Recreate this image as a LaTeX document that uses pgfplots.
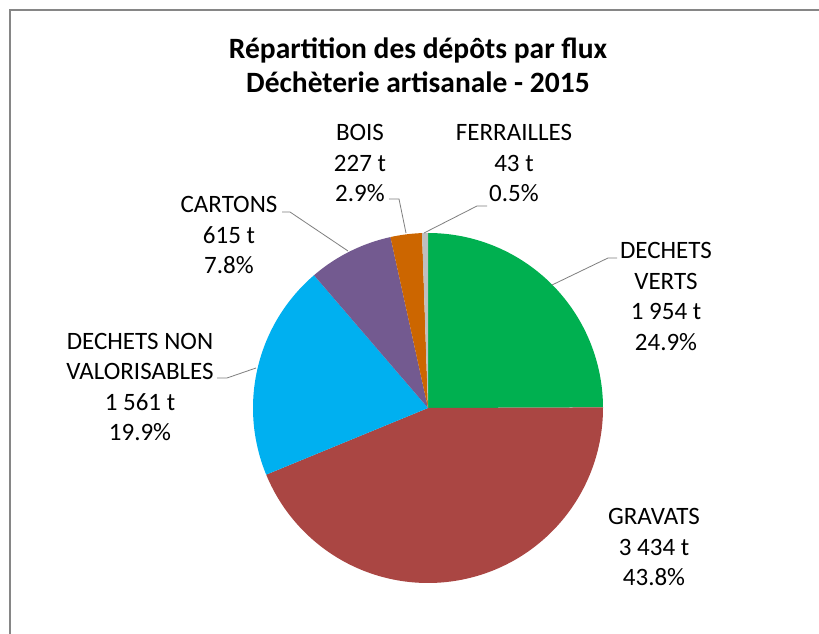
\documentclass[border=0pt]{standalone}
\usepackage{pgfplots}
\usepackage{pgfplotstable}
\pgfplotsset{compat=1.18}
\usepackage{fontspec}
\setmainfont{Carlito}
\definecolor{cDV}{HTML}{00B050}
\definecolor{cGR}{HTML}{AA4643}
\definecolor{cDNV}{HTML}{00B0F0}
\definecolor{cCA}{HTML}{735A90}
\definecolor{cBO}{HTML}{CC6600}
\definecolor{cFE}{HTML}{BFBFBF}
\definecolor{frameclr}{HTML}{868686}
\definecolor{leader}{HTML}{7F7F7F}
\pgfplotstableread{
flux tonnes
DV 1954
GR 3434
DNV 1561
CA 615
BO 227
FE 43
}\fluxdata
\begin{document}
\begin{tikzpicture}[x=1pt,y=1pt]
\pgfplotstablegetelem{0}{tonnes}\of\fluxdata \let\vA\pgfplotsretval
\pgfplotstablegetelem{1}{tonnes}\of\fluxdata \let\vB\pgfplotsretval
\pgfplotstablegetelem{2}{tonnes}\of\fluxdata \let\vC\pgfplotsretval
\pgfplotstablegetelem{3}{tonnes}\of\fluxdata \let\vD\pgfplotsretval
\pgfplotstablegetelem{4}{tonnes}\of\fluxdata \let\vE\pgfplotsretval
\pgfplotstablegetelem{5}{tonnes}\of\fluxdata \let\vF\pgfplotsretval
\pgfmathsetmacro\tot{(\vA+\vB+\vC+\vD+\vE+\vF)/100}
\pgfmathsetmacro\aA{90}
\pgfmathsetmacro\aB{\aA-3.6*((\vA/100)/(\tot/100))}
\pgfmathsetmacro\aC{\aB-3.6*((\vB/100)/(\tot/100))}
\pgfmathsetmacro\aD{\aC-3.6*((\vC/100)/(\tot/100))}
\pgfmathsetmacro\aE{\aD-3.6*((\vD/100)/(\tot/100))}
\pgfmathsetmacro\aF{\aE-3.6*((\vE/100)/(\tot/100))}
\pgfmathsetmacro\aG{\aF-3.6*((\vF/100)/(\tot/100))}
\fill[white] (0,0) rectangle (819,634);
\useasboundingbox (0,0) rectangle (819,634);
\draw[frameclr, line width=1.6pt] (10,0) -- (10,624.8);
\draw[frameclr, line width=1.6pt] (9.2,624) -- (819,624);
\begin{axis}[
  at={(0,0)}, anchor=south west,
  width=819pt, height=634pt, scale only axis,
  xmin=0, xmax=819, ymin=0, ymax=634,
  hide axis, clip=false,
  every axis plot/.append style={draw=none},
]
% pie slices (center 428,226 ; radius 175)
\addplot[fill=cDV, domain=\aB:\aA, samples=90, variable=\t]
  ({428+175*cos(t)},{226+175*sin(t)}) -- (axis cs:428,226) -- cycle;
\addplot[fill=cGR, domain=\aC:\aB, samples=150, variable=\t]
  ({428+175*cos(t)},{226+175*sin(t)}) -- (axis cs:428,226) -- cycle;
\addplot[fill=cDNV, domain=\aD:\aC, samples=80, variable=\t]
  ({428+175*cos(t)},{226+175*sin(t)}) -- (axis cs:428,226) -- cycle;
\addplot[fill=cCA, domain=\aE:\aD, samples=40, variable=\t]
  ({428+175*cos(t)},{226+175*sin(t)}) -- (axis cs:428,226) -- cycle;
\addplot[fill=cBO, domain=\aF:\aE, samples=20, variable=\t]
  ({428+175*cos(t)},{226+175*sin(t)}) -- (axis cs:428,226) -- cycle;
\addplot[fill=cFE, domain=\aG:\aF, samples=8, variable=\t]
  ({428+175*cos(t)},{226+175*sin(t)}) -- (axis cs:428,226) -- cycle;
% leader lines
\draw[leader, line width=0.8pt] (axis cs:617,376) -- (axis cs:608,376) -- (axis cs:552,349);
\draw[leader, line width=0.8pt] (axis cs:217,256) -- (axis cs:227,256) -- (axis cs:256,266);
\draw[leader, line width=0.8pt] (axis cs:282,422) -- (axis cs:290,422) -- (axis cs:348,383);
\draw[leader, line width=0.8pt] (axis cs:389,435) -- (axis cs:399,435) -- (axis cs:406,401);
\draw[leader, line width=0.8pt] (axis cs:487,428) -- (axis cs:477,428) -- (axis cs:424,401);
% title
\node[align=center, font=\fontsize{29.5}{34}\selectfont\bfseries] at (axis cs:418,569)
  {Répartition des dépôts par flux\\Déchèterie artisanale - 2015};
% labels
\tikzset{lab/.style={align=center, font=\fontsize{25}{30.5}\selectfont}}
\node[lab] at (axis cs:666,337.5) {DECHETS\\VERTS\\1 954 t\\24.9\%};
\node[lab] at (axis cs:654,87) {GRAVATS\\3 434 t\\43.8\%};
\node[lab] at (axis cs:140,247) {DECHETS NON\\VALORISABLES\\1 561 t\\19.9\%};
\node[lab] at (axis cs:229,399) {CARTONS\\615 t\\7.8\%};
\node[lab] at (axis cs:360,471) {BOIS\\227 t\\2.9\%};
\node[lab] at (axis cs:514,471) {FERRAILLES\\43 t\\0.5\%};
\end{axis}
\end{tikzpicture}
\end{document}
